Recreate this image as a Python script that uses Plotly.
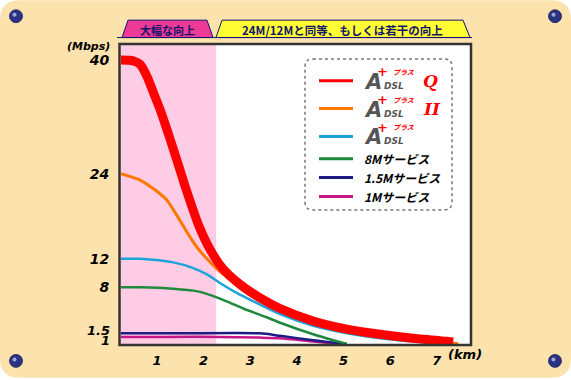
import plotly.graph_objects as go

# ---------------- data ----------------
km_red = [0.23, 0.49, 0.64, 0.78, 0.92, 1.07, 1.21, 1.35, 1.49, 1.64, 1.89, 2.10, 2.39, 2.78, 3.21,
          3.64, 4.35, 5.07, 5.78, 6.49, 7.21, 7.35]
mb_red = [40.0, 39.9, 39.4, 37.8, 35.5, 33.0, 30.3, 27.5, 24.6, 21.5, 16.8, 13.8, 10.8, 8.4, 6.5,
          5.0, 3.25, 2.1, 1.37, 0.8, 0.38, 0.3]

km_orange = [0.23, 0.64, 0.92, 1.21, 1.42, 1.64, 1.85, 2.07, 2.35, 2.71, 3.14, 3.42, 3.64, 4.35, 5.07,
             5.78, 6.49, 7.20, 7.46]
mb_orange = [24.0, 23.1, 21.9, 20.3, 18.2, 15.8, 13.7, 12.0, 10.2, 8.4, 6.5, 5.6, 4.8, 2.9, 1.75,
             1.05, 0.55, 0.2, 0.05]

km_blue = [0.23, 0.64, 1.35, 1.78, 2.07, 2.35, 2.71, 3.07, 3.64, 4.35, 5.07, 5.78, 6.49, 7.20]
mb_blue = [12.0, 12.0, 11.5, 10.7, 9.8, 8.6, 7.2, 6.0, 4.2, 2.55, 1.5, 0.8, 0.35, 0.05]

km_green = [0.23, 0.64, 1.35, 1.85, 2.21, 2.57, 2.85, 3.34, 3.64, 4.35, 5.07]
mb_green = [8.0, 8.0, 7.8, 7.45, 6.75, 5.8, 5.0, 3.8, 3.0, 1.37, 0.0]

km_navy = [0.23, 1.50, 3.20, 3.64, 4.35, 5.07]
mb_navy = [1.5, 1.5, 1.5, 1.15, 0.53, 0.0]

km_magenta = [0.23, 1.30, 2.30, 3.20, 3.64, 4.35, 4.93]
mb_magenta = [1.0, 1.0, 1.0, 0.9, 0.8, 0.35, 0.0]

x_ticks = [1, 2, 3, 4, 5, 6, 7]
y_ticks = [8, 12, 24, 40]
y_small_ticks = [1.5, 1]
boost_end_km = 2.27

tab_labels = ["大幅な向上", "24M/12Mと同等、もしくは若干の向上"]
legend_names = ["ADSLプラスQ", "ADSLプラスII", "ADSLプラス", "8Mサービス", "1.5Mサービス", "1Mサービス"]

C_RED = "#ff0000"
C_ORANGE = "#ff7800"
C_BLUE = "#1ea3d8"
C_GREEN = "#1f8a3c"
C_NAVY = "#1c1c84"
C_MAG = "#c8168a"
NAVY_TXT = "#14146a"
PEACH = "#fce2ad"

# ---------------- geometry helpers (pixel -> paper) ----------------
L, T, W, H = 121, 45, 349, 301
FW, FH = 571, 380


def PX(px):
    return (px - L) / W


def PY(py):
    return (T + H - py) / H


fig = go.Figure()

series = [
    (km_magenta, mb_magenta, C_MAG, 2.5),
    (km_navy, mb_navy, C_NAVY, 2.5),
    (km_green, mb_green, C_GREEN, 2.5),
    (km_blue, mb_blue, C_BLUE, 2.5),
    (km_orange, mb_orange, C_ORANGE, 3),
    (km_red, mb_red, C_RED, 9),
]
for xs, ys, col, w in series:
    fig.add_trace(go.Scatter(x=xs, y=ys, mode="lines",
                             line=dict(color=col, width=w, shape="spline", smoothing=0.7),
                             showlegend=False, hoverinfo="skip", cliponaxis=True))

shapes = []


def rounded_path(x0, y0, x1, y1, r):
    pts = [("M", x0 + r, y0), ("L", x1 - r, y0), ("Q", x1, y0, x1, y0 + r), ("L", x1, y1 - r),
           ("Q", x1, y1, x1 - r, y1), ("L", x0 + r, y1), ("Q", x0, y1, x0, y1 - r),
           ("L", x0, y0 + r), ("Q", x0, y0, x0 + r, y0)]
    s = ""
    for p in pts:
        part = p[0]
        for i in range(1, len(p), 2):
            part += f" {PX(p[i]):.5f},{PY(p[i+1]):.5f}"
        s += part + " "
    return s + "Z"


# rounded peach canvas
shapes.append(dict(type="path", path=rounded_path(0, 0, FW, FH, 20), xref="paper", yref="paper",
                   fillcolor=PEACH, line=dict(width=0), layer="below"))
# white plot area
shapes.append(dict(type="rect", xref="paper", yref="paper", x0=0, x1=1, y0=0, y1=1,
                   fillcolor="white", line=dict(width=0), layer="below"))
# pink band
shapes.append(dict(type="rect", xref="x", yref="paper", x0=0.23, x1=boost_end_km, y0=0, y1=1,
                   fillcolor="#ffcce6", line=dict(width=0), layer="below"))
# plot border
shapes.append(dict(type="rect", xref="paper", yref="paper", x0=PX(119.5), x1=PX(471), y0=PY(347), y1=PY(44),
                   fillcolor="rgba(0,0,0,0)", line=dict(color="#333333", width=2.5), layer="above"))


def poly(points, fill, line_col, lw=1):
    s = "M " + " L ".join(f"{PX(a):.5f},{PY(b):.5f}" for a, b in points) + " Z"
    return dict(type="path", path=s, xref="paper", yref="paper", fillcolor=fill,
                line=dict(color=line_col, width=lw), layer="above")


# tabs
shapes.append(poly([(128, 20), (207, 20), (213, 37.5), (122, 37.5)], "#ec3a96", NAVY_TXT, 1))
shapes.append(poly([(222, 20), (463, 20), (470, 37.5), (216, 37.5)], "#ffff33", NAVY_TXT, 1))
shapes.append(dict(type="line", xref="paper", yref="paper", x0=PX(117), x1=PX(472), y0=PY(37.5), y1=PY(37.5),
                   line=dict(color=NAVY_TXT, width=1), layer="above"))

# legend box (rounded, dotted)
shapes.append(dict(type="path", path=rounded_path(305, 59, 452, 211, 8), xref="paper", yref="paper",
                   fillcolor="white", line=dict(color="#777777", width=1.5, dash="dot"), layer="above"))

row_y = [81, 109, 137, 159.5, 178.5, 197.5]
row_cols = [C_RED, C_ORANGE, C_BLUE, C_GREEN, C_NAVY, C_MAG]
for yy, col in zip(row_y, row_cols):
    shapes.append(dict(type="line", xref="paper", yref="paper", x0=PX(319), x1=PX(353), y0=PY(yy), y1=PY(yy),
                       line=dict(color=col, width=3), layer="above"))

# corner balls
for cx, cy in [(16, 16), (555, 16), (16, 363), (555, 363)]:
    shapes.append(dict(type="circle", xref="paper", yref="paper", x0=PX(cx - 6.5), x1=PX(cx + 6.5),
                       y0=PY(cy + 6.5), y1=PY(cy - 6.5), fillcolor="#2c3383",
                       line=dict(color="#1a1f5c", width=0.8), layer="above"))
    shapes.append(dict(type="circle", xref="paper", yref="paper", x0=PX(cx - 3.5), x1=PX(cx + 0.5),
                       y0=PY(cy + 0.5), y1=PY(cy - 3.5), fillcolor="rgba(200,205,240,0.75)",
                       line=dict(width=0), layer="above"))

annotations = []
NUMF = "DejaVu Sans"
JPF = "Noto Sans CJK JP"


def ann(text, px, py, size, color="black", family=NUMF, xanchor="center", **kw):
    annotations.append(dict(text=text, x=PX(px), y=PY(py), xref="paper", yref="paper", showarrow=False,
                            xanchor=xanchor, yanchor="middle", font=dict(size=size, color=color, family=family), **kw))


# tab labels
ann(f"<b>{tab_labels[0]}</b>", 167.5, 29.5, 11, NAVY_TXT, JPF)
ann(f"<b>{tab_labels[1]}</b>", 342, 29.5, 11.5, NAVY_TXT, JPF)

# axis titles
ann("<b><i>(Mbps)</i></b>", 112, 47, 11, xanchor="right")
ann("<b><i>(km)</i></b>", 446, 357, 13, xanchor="left")

# small y ticks
for v, shift in zip(y_small_ticks, [3, -4]):
    annotations.append(dict(text=f"<b><i>{v}</i></b>", x=0, y=v, xref="paper", yref="y", showarrow=False,
                            xanchor="right", yanchor="middle", xshift=-9, yshift=shift,
                            font=dict(size=13, color="black", family=NUMF)))


# logos
def logo(py, suffix):
    ann("<b><i>A</i></b>", 373, py + 1, 21, "#555555")
    ann("<b><i>DSL</i></b>", 382, py + 5, 9, "#555555", xanchor="left")
    ann("<b>+</b>", 382, py - 9, 13, C_RED)
    ann("<b><i>プラス</i></b>", 391, py - 9, 7, C_RED, JPF, xanchor="left")
    if suffix:
        ann(f"<b><i>{suffix}</i></b>", 421, py, 17, C_RED, "DejaVu Serif", xanchor="left")


logo(row_y[0], "Q")
logo(row_y[1], "II")
logo(row_y[2], "")
for i in (3, 4, 5):
    ann(f"<b><i>{legend_names[i]}</i></b>", 362, row_y[i], 12, "black", JPF, xanchor="left")

fig.update_layout(
    width=FW, height=FH,
    margin=dict(l=L, r=FW - L - W, t=T, b=FH - T - H, pad=0),
    paper_bgcolor="white",
    plot_bgcolor="rgba(0,0,0,0)",
    shapes=shapes,
    annotations=annotations,
    showlegend=False,
    xaxis=dict(range=[0.23, 7.71], tickvals=x_ticks, ticktext=[f"<b><i>{v}</i></b>" for v in x_ticks],
               showgrid=False, zeroline=False, showline=False, ticks="outside", ticklen=4,
               tickcolor="rgba(0,0,0,0)", tickfont=dict(size=13, family=NUMF, color="black"), fixedrange=True),
    yaxis=dict(range=[0, 42.13], tickvals=y_ticks, ticktext=[f"<b><i>{v}</i></b>" for v in y_ticks],
               showgrid=False, zeroline=False, showline=False, ticks="outside", ticklen=8,
               tickcolor="rgba(0,0,0,0)", tickfont=dict(size=14, family=NUMF, color="black"), fixedrange=True),
)

fig.write_html("out.html", config={"displayModeBar": False},
               post_script="document.body.style.margin='0';document.body.style.overflow='hidden';")
